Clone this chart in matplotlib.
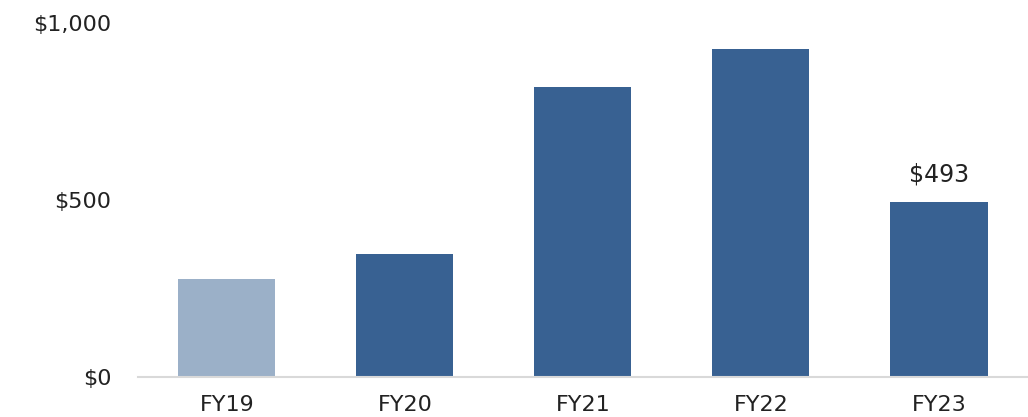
import matplotlib
matplotlib.use("Agg")
import matplotlib.pyplot as plt
from matplotlib.ticker import FuncFormatter

years = ["FY19", "FY20", "FY21", "FY22", "FY23"]
values = [277, 348, 820, 927, 493]
colors = ["#9BB0C8", "#386192", "#386192", "#386192", "#386192"]

plt.rcParams['font.family'] = ['DejaVu Sans']

fig = plt.figure(figsize=(10.28, 4.17), dpi=100)
ax = fig.add_axes([0.1342, 0.0959, 0.8658, 0.849])

bars = ax.bar(years, values, width=0.545, color=colors)

# label only the latest year
last = bars[-1]
ax.text(last.get_x() + last.get_width() / 2, values[-1] + 45, "$" + str(values[-1]),
        ha="center", va="bottom", fontsize=17, color="#222222")

ax.set_xlim(-0.5, 4.5)
ax.set_ylim(0, 1000)
ax.set_yticks([0, 500, 1000])
ax.yaxis.set_major_formatter(FuncFormatter(lambda v, p: "${:,.0f}".format(v)))

for s in ["top", "right", "left"]:
    ax.spines[s].set_visible(False)
ax.spines["bottom"].set_color("#D9D9D9")
ax.spines["bottom"].set_linewidth(1.5)

ax.tick_params(axis="both", length=0, labelsize=16, labelcolor="#222222")
ax.tick_params(axis="y", pad=19)
ax.tick_params(axis="x", pad=13)

fig.savefig("out.png", dpi=100)
